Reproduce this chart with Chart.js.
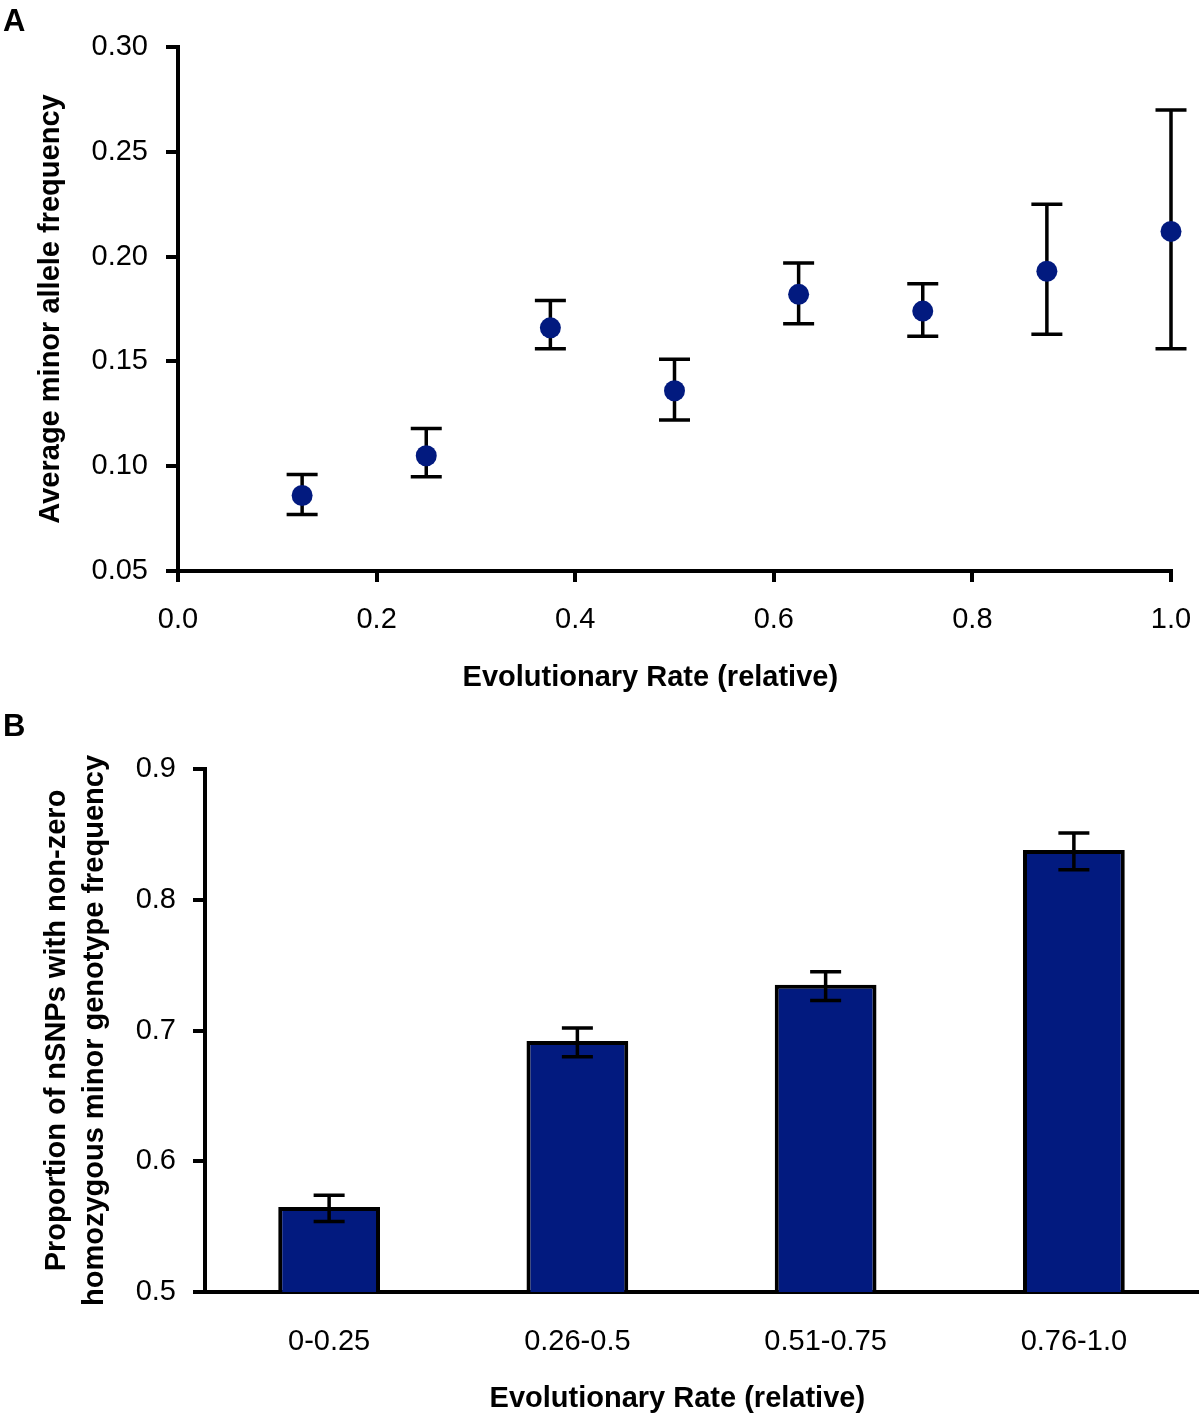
<!DOCTYPE html>
<html><head><meta charset="utf-8">
<script src="https://cdn.jsdelivr.net/npm/chart.js@4.4.0/dist/chart.umd.min.js"></script>
<style>
html,body{margin:0;padding:0;background:#fff;}
#wrap{position:relative;width:1200px;height:1426px;background:#fff;}
canvas{position:absolute;left:0;}
#cA{top:0;}
#cB{top:700px;}
.panel{position:absolute;left:3px;font:bold 31px "Liberation Sans",Arial,sans-serif;line-height:31px;color:#000;}
</style></head><body>
<div id="wrap">
<canvas id="cA" width="1200" height="700"></canvas>
<canvas id="cB" width="1200" height="726"></canvas>
<div class="panel" style="top:5px">A</div>
<div class="panel" style="top:710px">B</div>
</div>
<script>
// ---- Panel A data ----
const xRates = [0.125, 0.25, 0.375, 0.5, 0.625, 0.75, 0.875, 1.0];
const mafMean = [0.086, 0.105, 0.166, 0.136, 0.182, 0.174, 0.193, 0.212];
const mafLow  = [0.077, 0.095, 0.156, 0.122, 0.168, 0.162, 0.163, 0.156];
const mafHigh = [0.096, 0.118, 0.179, 0.151, 0.197, 0.187, 0.225, 0.270];
const xTicksA = [0.0, 0.2, 0.4, 0.6, 0.8, 1.0];
const yTicksA = [0.05, 0.10, 0.15, 0.20, 0.25, 0.30];

// ---- Panel B data ----
const rateBins = ['0-0.25', '0.26-0.5', '0.51-0.75', '0.76-1.0'];
const propMean = [0.565, 0.692, 0.735, 0.838];
const propLow  = [0.554, 0.680, 0.723, 0.823];
const propHigh = [0.574, 0.702, 0.745, 0.851];
const yTicksB = [0.5, 0.6, 0.7, 0.8, 0.9];

const xTitle = 'Evolutionary Rate (relative)';
const yTitleA = 'Average minor allele frequency';
const yTitleB = ['Proportion of nSNPs with non-zero', 'homozygous minor genotype frequency'];

const FONT = '"Liberation Sans", Arial, Helvetica, sans-serif';
const NAVY = '#021a7f';

function errorBars(low, high, capHalf, lw, hook) {
  const p = { id: 'err' + hook };
  p[hook] = function (chart) {
    const ctx = chart.ctx;
    const ys = chart.scales.y;
    const meta = chart.getDatasetMeta(0);
    ctx.save();
    ctx.strokeStyle = '#000';
    ctx.lineWidth = lw;
    ctx.lineCap = 'butt';
    meta.data.forEach((el, i) => {
      const x = el.x;
      const yl = ys.getPixelForValue(low[i]);
      const yh = ys.getPixelForValue(high[i]);
      ctx.beginPath();
      ctx.moveTo(x, yl); ctx.lineTo(x, yh);
      ctx.moveTo(x - capHalf, yl); ctx.lineTo(x + capHalf, yl);
      ctx.moveTo(x - capHalf, yh); ctx.lineTo(x + capHalf, yh);
      ctx.stroke();
    });
    ctx.restore();
  };
  return p;
}

// ---------------- Chart A ----------------
new Chart(document.getElementById('cA'), {
  type: 'scatter',
  data: {
    datasets: [{
      data: xRates.map((x, i) => ({ x: x, y: mafMean[i] })),
      backgroundColor: NAVY,
      borderWidth: 0,
      pointRadius: 10.5,
      pointHoverRadius: 10.5,
      clip: false
    }]
  },
  options: {
    responsive: false,
    animation: false,
    events: [],
    layout: { padding: { top: 47, right: 29, left: 0, bottom: 0 } },
    plugins: { legend: { display: false }, tooltip: { enabled: false } },
    scales: {
      x: {
        type: 'linear', min: 0, max: 1,
        afterFit: s => { s.height = 129; s.paddingLeft = 0; s.paddingRight = 0; },
        afterBuildTicks: s => { s.ticks = xTicksA.map(v => ({ value: v })); },
        ticks: { color: '#000', font: { family: FONT, size: 29 }, padding: 21,
                 callback: v => Number(v).toFixed(1) },
        grid: { display: true, drawOnChartArea: false, drawTicks: true, tickLength: 11, color: '#000', lineWidth: 4 },
        border: { display: true, color: '#000', width: 4 },
        title: { display: true, text: xTitle + '      ', color: '#000',
                 font: { family: FONT, size: 29, weight: 'bold' }, padding: { top: 0, bottom: 5 } }
      },
      y: {
        type: 'linear', min: 0.05, max: 0.30,
        afterFit: s => { s.width = 178; s.paddingTop = 0; s.paddingBottom = 0; },
        afterBuildTicks: s => { s.ticks = yTicksA.map(v => ({ value: v })); },
        ticks: { color: '#000', font: { family: FONT, size: 29 }, padding: 18,
                 callback: v => Number(v).toFixed(2) },
        grid: { display: true, drawOnChartArea: false, drawTicks: true, tickLength: 12, color: '#000', lineWidth: 4 },
        border: { display: true, color: '#000', width: 4 },
        title: { display: true, text: yTitleA, color: '#000',
                 font: { family: FONT, size: 29, weight: 'bold' }, padding: { top: 34, bottom: 0 } }
      }
    }
  },
  plugins: [errorBars(mafLow, mafHigh, 15.5, 3.5, 'beforeDatasetsDraw')]
});

// ---------------- Chart B ----------------
const yTitleBPlugin = {
  id: 'yTitleB',
  afterDraw(chart) {
    const ctx = chart.ctx;
    const a = chart.chartArea;
    const cy = (a.top + a.bottom) / 2;
    const xs = [57, 95];
    ctx.save();
    ctx.fillStyle = '#000';
    ctx.font = 'bold 29px ' + FONT;
    ctx.textAlign = 'center';
    ctx.textBaseline = 'middle';
    yTitleB.forEach((t, i) => {
      ctx.save();
      ctx.translate(xs[i], cy);
      ctx.rotate(-Math.PI / 2);
      ctx.fillText(t, 0, 0);
      ctx.restore();
    });
    ctx.restore();
  }
};

new Chart(document.getElementById('cB'), {
  type: 'bar',
  data: {
    labels: rateBins,
    datasets: [{
      data: propMean,
      backgroundColor: NAVY,
      borderColor: '#000',
      borderWidth: 4,
      borderSkipped: false,
      categoryPercentage: 1,
      barPercentage: 0.41
    }]
  },
  options: {
    responsive: false,
    animation: false,
    events: [],
    layout: { padding: { top: 69, right: 2, left: 0, bottom: 0 } },
    plugins: { legend: { display: false }, tooltip: { enabled: false } },
    scales: {
      x: {
        afterFit: s => { s.height = 134; s.paddingLeft = 0; s.paddingRight = 0; },
        ticks: { color: '#000', font: { family: FONT, size: 29 }, padding: 33 },
        grid: { display: false, drawOnChartArea: false, drawTicks: false },
        border: { display: true, color: '#000', width: 4 },
        title: { display: true, text: xTitle + '      ', color: '#000',
                 font: { family: FONT, size: 29, weight: 'bold' }, padding: { top: 0, bottom: 10 } }
      },
      y: {
        type: 'linear', min: 0.5, max: 0.9,
        afterFit: s => { s.width = 205; s.paddingTop = 0; s.paddingBottom = 0; },
        afterBuildTicks: s => { s.ticks = yTicksB.map(v => ({ value: v })); },
        ticks: { color: '#000', font: { family: FONT, size: 29 }, padding: 17,
                 callback: v => Number(v).toFixed(1) },
        grid: { display: true, drawOnChartArea: false, drawTicks: true, tickLength: 12, color: '#000', lineWidth: 4 },
        border: { display: true, color: '#000', width: 4 },
        title: { display: false }
      }
    }
  },
  plugins: [errorBars(propLow, propHigh, 15.5, 3.5, 'afterDatasetsDraw'), yTitleBPlugin]
});
</script>
</body></html>
